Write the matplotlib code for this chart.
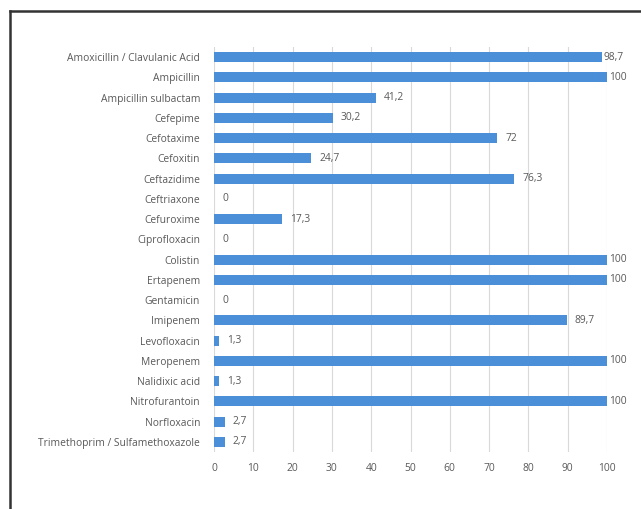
import matplotlib
matplotlib.use("Agg")
import matplotlib.pyplot as plt
from matplotlib.lines import Line2D

categories = [
    "Amoxicillin / Clavulanic Acid", "Ampicillin", "Ampicillin sulbactam", "Cefepime",
    "Cefotaxime", "Cefoxitin", "Ceftazidime", "Ceftriaxone", "Cefuroxime",
    "Ciprofloxacin", "Colistin", "Ertapenem", "Gentamicin", "Imipenem",
    "Levofloxacin", "Meropenem", "Nalidixic acid", "Nitrofurantoin",
    "Norfloxacin", "Trimethoprim / Sulfamethoxazole",
]
values = [98.7, 100, 41.2, 30.2, 72, 24.7, 76.3, 0, 17.3, 0, 100, 100, 0, 89.7,
          1.3, 100, 1.3, 100, 2.7, 2.7]
xticks = [0, 10, 20, 30, 40, 50, 60, 70, 80, 90, 100]

plt.rcParams['font.family'] = ['Open Sans', 'DejaVu Sans']
text_color = '#595959'
fs = 7.4

fig = plt.figure(figsize=(6.41, 5.09), dpi=100)
ax = fig.add_axes([214/641, 1 - 452/509, (607-214)/641, (452-47)/509])

y = list(range(len(categories)))
ax.barh(y, values, height=0.5, color='#4a8fd8', edgecolor='none', linewidth=0, zorder=3)
ax.set_ylim(len(categories) - 0.5, -0.5)
ax.set_xlim(0, 100)
ax.set_yticks(y)
ax.set_yticklabels(categories, fontsize=fs, color=text_color)
ax.set_xticks(xticks)
ax.set_xticklabels([str(t) for t in xticks], fontsize=fs, color=text_color)
ax.tick_params(axis='both', length=0)
ax.tick_params(axis='y', pad=10)
ax.tick_params(axis='x', pad=8)
ax.grid(axis='x', color='#d9d9d9', linewidth=0.8, zorder=0)
for s in ax.spines.values():
    s.set_visible(False)

for yi, v in zip(y, values):
    lab = f"{v:g}".replace('.', ',')
    off = 1.5 if v >= 98 else 6
    ax.annotate(lab, xy=(v, yi), xytext=(off, 0), textcoords='offset points',
                va='center', ha='left', fontsize=fs, color=text_color)

# outer frame (left and top edges)
fig.add_artist(Line2D([10/641, 10/641], [0, 1 - 11/509], color='#333333', lw=1.8,
                      transform=fig.transFigure))
fig.add_artist(Line2D([10/641, 1], [1 - 11/509, 1 - 11/509], color='#333333', lw=1.8,
                      transform=fig.transFigure))

fig.savefig('out.png', dpi=100)
